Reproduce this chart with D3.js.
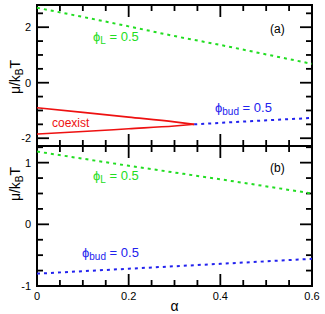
<!DOCTYPE html>
<html>
<head>
<meta charset="utf-8">
<script src="https://cdn.jsdelivr.net/npm/d3@7"></script>
<style>
  body { margin: 0; background: #fff; }
  text { font-family: "Liberation Sans", Arial, sans-serif; }
</style>
</head>
<body>
<div class="chart"></div>
<script>
// data
var alphaTicks = [0, 0.2, 0.4, 0.6];

// panel (a)
var phiLTopAlpha = [0, 0.1, 0.2, 0.3, 0.4, 0.5, 0.6];
var phiLTopMu = [2.70, 2.37, 2.03, 1.68, 1.36, 1.02, 0.68];
var coexUpperAlpha = [0, 0.1, 0.2, 0.3, 0.343];
var coexUpperMu = [-0.90, -1.07, -1.24, -1.41, -1.50];
var coexLowerAlpha = [0, 0.1, 0.2, 0.3, 0.343];
var coexLowerMu = [-1.85, -1.76, -1.66, -1.56, -1.50];
var budTopAlpha = [0.343, 0.45, 0.6];
var budTopMu = [-1.50, -1.40, -1.27];

// panel (b)
var phiLBotAlpha = [0, 0.2, 0.4, 0.6];
var phiLBotMu = [1.18, 0.95, 0.73, 0.50];
var budBotAlpha = [0, 0.2, 0.4, 0.6];
var budBotMu = [-0.80, -0.72, -0.64, -0.56];

var svgWidth = 325, svgHeight = 314;
var left = 37, right = 312;

var svg = d3.select(".chart").append("svg")
  .attr("width", svgWidth)
  .attr("height", svgHeight);

var x = d3.scaleLinear().domain([0, 0.6]).range([left, right]);
var yTop = d3.scaleLinear().domain([-2.28, 2.8]).range([146, 5]);
var yBot = d3.scaleLinear().domain([-1, 1.27]).range([286, 146]);

function zip(a, b) { return a.map((v, i) => [v, b[i]]); }

function drawPanel(y, top, bottom, majorY, minorStep, yTickVals, labelY) {
  var g = svg.append("g");
  var minorX = d3.range(0, 0.6001, 0.05);
  var lo = Math.ceil(y.domain()[0] / minorStep) * minorStep;
  var minorY = d3.range(lo, y.domain()[1] + 1e-6, minorStep);

  // ticks on x (top & bottom edges, pointing inward)
  minorX.forEach(function(v) {
    var major = alphaTicks.some(t => Math.abs(t - v) < 1e-6);
    var len = major ? 12 : 6;
    g.append("line").attr("x1", x(v)).attr("x2", x(v))
      .attr("y1", bottom).attr("y2", bottom - len)
      .attr("stroke", "#000").attr("stroke-width", 1.8);
    g.append("line").attr("x1", x(v)).attr("x2", x(v))
      .attr("y1", top).attr("y2", top + len)
      .attr("stroke", "#000").attr("stroke-width", 1.8);
  });
  // ticks on y (left & right)
  minorY.forEach(function(v) {
    var major = majorY.some(t => Math.abs(t - v) < 1e-6);
    var len = major ? 12 : 6;
    g.append("line").attr("x1", left).attr("x2", left + len)
      .attr("y1", y(v)).attr("y2", y(v))
      .attr("stroke", "#000").attr("stroke-width", 1.8);
    g.append("line").attr("x1", right).attr("x2", right - len)
      .attr("y1", y(v)).attr("y2", y(v))
      .attr("stroke", "#000").attr("stroke-width", 1.8);
  });
  // tick labels
  yTickVals.forEach(function(v) {
    g.append("text").attr("x", left - 6).attr("y", y(v) + 4)
      .attr("text-anchor", "end").attr("font-size", 11)
      .text(v);
  });
  // frame
  g.append("rect").attr("x", left).attr("y", top)
    .attr("width", right - left).attr("height", bottom - top)
    .attr("fill", "none").attr("stroke", "#000").attr("stroke-width", 2);

  // y label
  var lab = g.append("text")
    .attr("transform", `translate(20, ${labelY}) rotate(-90)`)
    .attr("text-anchor", "middle").attr("font-size", 14);
  lab.append("tspan").text("\u03bc/k");
  lab.append("tspan").attr("font-size", 10).attr("dy", 3).text("B");
  lab.append("tspan").attr("dy", -3).text("T");
  return g;
}

drawPanel(yTop, 5, 146, [-2, 0, 2], 0.5, [-2, 0, 2], 77);
drawPanel(yBot, 146, 286, [-1, 0, 1], 0.25, [-1, 0, 1], 184);

// x tick labels
alphaTicks.forEach(function(v) {
  svg.append("text").attr("x", x(v)).attr("y", 300)
    .attr("text-anchor", "middle").attr("font-size", 11).text(v);
});
svg.append("text").attr("x", x(0.3)).attr("y", 311)
  .attr("text-anchor", "middle").attr("font-size", 14).text("\u03b1");

function curve(y, xs, ys, color, dotted) {
  var line = d3.line().x(d => x(d[0])).y(d => y(d[1])).curve(d3.curveMonotoneX);
  svg.append("path").datum(zip(xs, ys))
    .attr("d", line)
    .attr("fill", "none")
    .attr("stroke", color)
    .attr("stroke-width", dotted ? 2 : 1.6)
    .attr("stroke-dasharray", dotted ? "3,4" : null);
}

var green = "#22dd22", blue = "#2222ee", red = "#ee1111";
curve(yTop, phiLTopAlpha, phiLTopMu, green, true);
curve(yTop, coexUpperAlpha, coexUpperMu, red, false);
curve(yTop, coexLowerAlpha, coexLowerMu, red, false);
curve(yTop, budTopAlpha, budTopMu, blue, true);
curve(yBot, phiLBotAlpha, phiLBotMu, green, true);
curve(yBot, budBotAlpha, budBotMu, blue, true);

function phiLabel(px, py, sub, color) {
  var t = svg.append("text").attr("x", px).attr("y", py)
    .attr("font-size", 13).attr("fill", color);
  t.append("tspan").text("\u03d5");
  t.append("tspan").attr("font-size", 10).attr("dy", 3).text(sub);
  t.append("tspan").attr("dy", -3).text(" = 0.5");
}

phiLabel(93, 41, "L", green);
phiLabel(215, 112, "bud", blue);
phiLabel(93, 180, "L", green);
phiLabel(82, 257, "bud", blue);

svg.append("text").attr("x", 52).attr("y", 127).attr("font-size", 12)
  .attr("fill", red).text("coexist");
svg.append("text").attr("x", 270).attr("y", 33).attr("font-size", 12).text("(a)");
svg.append("text").attr("x", 270).attr("y", 172).attr("font-size", 12).text("(b)");
</script>
</body>
</html>
